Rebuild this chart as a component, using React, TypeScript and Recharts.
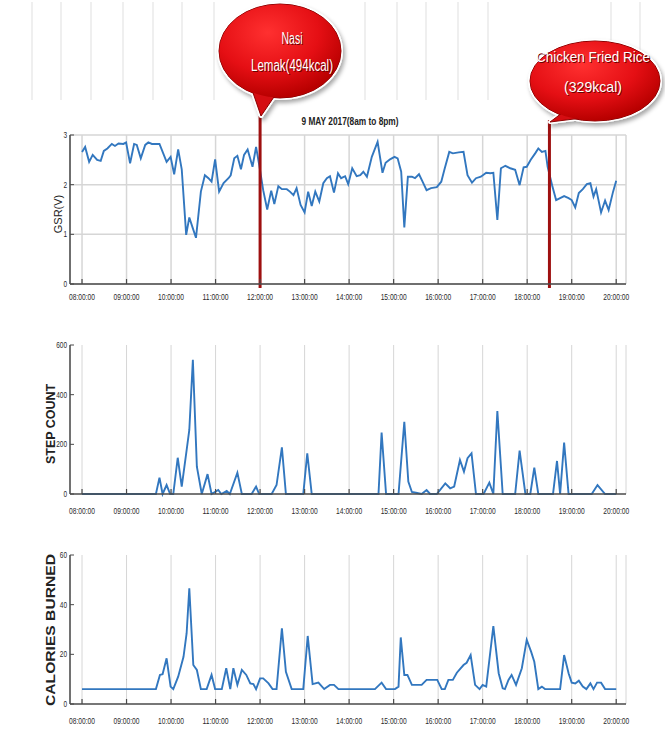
import React from 'react';
import {
    LineChart,
    Line,
    XAxis,
    YAxis,
    CartesianGrid,
    ReferenceLine
} from 'recharts';

// time axis (hours of the day)
const hourTicks = [8, 9, 10, 11, 12, 13, 14, 15, 16, 17, 18, 19, 20];
const timeDomain = [7.73, 20.22];

// GSR in volts
const gsrHours = [
    8.0, 8.07, 8.16, 8.24, 8.34, 8.42, 8.49, 8.57, 8.67, 8.74, 8.82, 8.93, 8.99,
    9.08, 9.17, 9.23, 9.32, 9.42, 9.49, 9.57, 9.74, 9.9, 9.99,
    10.07, 10.16, 10.24, 10.34, 10.41, 10.49, 10.56, 10.67, 10.76, 10.84, 10.91, 10.99,
    11.08, 11.18, 11.29, 11.34, 11.42, 11.49, 11.57, 11.64, 11.72, 11.83, 11.91, 11.98,
    12.07, 12.16, 12.25, 12.32, 12.41, 12.49, 12.6, 12.67, 12.75, 12.82, 12.91,
    13.0, 13.08, 13.16, 13.24, 13.33, 13.42, 13.5, 13.57, 13.66, 13.75, 13.82, 13.91, 13.98,
    14.07, 14.17, 14.25, 14.32, 14.4, 14.51, 14.64, 14.75, 14.82, 14.92,
    15.02, 15.09, 15.17, 15.24, 15.32, 15.41, 15.48, 15.57, 15.65, 15.74, 15.84, 15.97,
    16.07, 16.14, 16.25, 16.33, 16.46, 16.57, 16.66, 16.76, 16.85, 16.96,
    17.08, 17.17, 17.24, 17.33, 17.41, 17.51, 17.62, 17.73, 17.83, 17.92, 17.99,
    18.08, 18.18, 18.25, 18.33, 18.41, 18.46, 18.56, 18.65, 18.74, 18.83, 18.93,
    19.0, 19.08, 19.16, 19.25, 19.34, 19.42, 19.49, 19.55, 19.66, 19.75, 19.83, 19.93, 20.0
];
const gsrVolts = [
    2.66, 2.76, 2.46, 2.6, 2.5, 2.48, 2.68, 2.73, 2.82, 2.78, 2.83, 2.82, 2.85,
    2.43, 2.82, 2.8, 2.53, 2.8, 2.85, 2.82, 2.82, 2.46, 2.56,
    2.21, 2.71, 2.31, 0.99, 1.34, 1.12, 0.93, 1.86, 2.19, 2.13, 2.06, 2.51,
    1.86, 2.03, 2.13, 2.19, 2.53, 2.58, 2.31, 2.6, 2.71, 2.36, 2.76, 2.4,
    1.89, 1.5, 1.88, 1.61, 1.97, 1.91, 1.91, 1.86, 1.79, 1.93, 1.59,
    1.44, 1.86, 1.57, 1.86, 1.66, 2.03, 2.13, 2.17, 1.84, 2.23, 2.13, 2.17, 2.01,
    2.33, 2.17, 2.19, 2.26, 2.16, 2.56, 2.86, 2.24, 2.44, 2.51,
    2.56, 2.53, 2.26, 1.14, 2.16, 2.16, 2.13, 2.21, 2.06, 1.89, 1.93, 1.95,
    2.06, 2.3, 2.66, 2.63, 2.65, 2.66, 2.19, 2.04, 2.13, 2.16,
    2.24, 2.23, 2.24, 1.29, 2.33, 2.38, 2.33, 2.3, 1.99, 2.35, 2.36,
    2.5, 2.63, 2.73, 2.66, 2.68, 2.36, 1.99, 1.69, 1.73, 1.77, 1.73,
    1.69, 1.54, 1.83, 1.91, 2.01, 2.03, 1.76, 1.91, 1.44, 1.68, 1.49, 1.86, 2.08
];

// step count
const stepHours = [
    8.0, 9.66, 9.74, 9.81, 9.9, 9.98,
    10.05, 10.15, 10.24, 10.35, 10.41, 10.49, 10.58, 10.69, 10.82, 10.91,
    11.06, 11.13, 11.25, 11.32, 11.49, 11.59, 11.81, 11.91, 11.98,
    12.26, 12.37, 12.49, 12.58, 12.97, 13.06, 13.16,
    14.66, 14.73, 14.83, 15.11, 15.24, 15.33, 15.41, 15.5, 15.63, 15.74, 15.82, 15.97,
    16.16, 16.27, 16.36, 16.49, 16.58, 16.66, 16.75, 16.85,
    17.02, 17.15, 17.24, 17.33, 17.45, 17.73, 17.83, 17.96,
    18.07, 18.16, 18.25, 18.58, 18.67, 18.74, 18.83, 18.93,
    19.45, 19.58, 19.75, 20.0
];
const stepCounts = [
    0, 0, 66, 0, 36, 0,
    0, 146, 30, 177, 258, 540, 110, 0, 80, 0,
    16, 0, 12, 0, 86, 0, 0, 30, 0,
    0, 36, 188, 0, 0, 164, 0,
    0, 247, 0, 0, 291, 50, 8, 5, 0, 16, 0, 0,
    43, 23, 30, 137, 90, 144, 164, 0,
    0, 46, 0, 334, 0, 0, 175, 0,
    0, 106, 0, 0, 133, 0, 207, 0,
    0, 36, 0, 0
];

// calories burned
const calHours = [
    8.0, 9.66, 9.75, 9.81, 9.9, 9.99,
    10.05, 10.16, 10.28, 10.35, 10.41, 10.5, 10.58, 10.67, 10.8, 10.91, 10.99,
    11.14, 11.24, 11.33, 11.4, 11.49, 11.59, 11.69, 11.78, 11.85, 11.91,
    12.0, 12.07, 12.19, 12.28, 12.37, 12.49, 12.58, 12.71, 12.97,
    13.07, 13.18, 13.31, 13.44, 13.57, 13.66, 13.76,
    14.58, 14.73, 14.83, 15.03, 15.11, 15.16, 15.24, 15.31, 15.41, 15.63, 15.74, 15.98,
    16.08, 16.15, 16.23, 16.33, 16.42, 16.57, 16.64, 16.73, 16.83, 16.93,
    17.0, 17.08, 17.24, 17.36, 17.45, 17.5, 17.58, 17.65, 17.75, 17.88, 17.99,
    18.09, 18.16, 18.25, 18.33, 18.4, 18.74, 18.83, 18.93,
    19.0, 19.08, 19.16, 19.25, 19.33, 19.42, 19.49, 19.57, 19.66, 19.75, 20.0
];
const calBurned = [
    6, 6, 11.7, 12, 18.4, 7,
    6, 11, 19, 28.5, 46.6, 15.7, 13.7, 6, 6, 11.7, 6,
    6, 14.4, 6, 14.4, 7.7, 13.7, 11.7, 8.3, 8, 6,
    10.3, 10.3, 8.3, 6, 6, 30.5, 13, 6, 6,
    27.4, 8, 8.6, 6, 7.7, 7.7, 6,
    6, 8.6, 6, 6, 7, 26.8, 11.7, 11.7, 7.7, 7.7, 9.7, 9.7,
    6, 6, 9.7, 9.7, 12.6, 15.7, 16.6, 19.7, 7.7, 6,
    7.7, 7, 31.4, 12.4, 6.3, 6, 9.7, 11.7, 7.7, 14.4, 25.8,
    21, 17, 6, 7, 6, 6, 19.7, 12.4,
    8.6, 8.3, 9.4, 7, 6, 8.3, 6, 8.6, 8.6, 6, 6
];

// meals
const mealHours = [12, 18.5];

const gsrData = gsrHours.map((t, i) => ({ t, v: gsrVolts[i] }));
const stepData = stepHours.map((t, i) => ({ t, v: stepCounts[i] }));
const calData = calHours.map((t, i) => ({ t, v: calBurned[i] }));

const LINE = '#3277bf';
const AXIS = '#4a4a4a';
const GRID = '#d6d6d6';
const SANS = "'Liberation Sans', Arial, sans-serif";

const fmtHour = (h: number) => `${String(h).padStart(2, '0')}:00:00`;

// text squeezed horizontally to mimic the condensed font of the original
const Narrow = ({ x, y, w, size, anchor = 'middle', children, ...rest }: any) => (
    <text
        x={x}
        y={y}
        textAnchor={anchor}
        fontSize={size}
        fontFamily={SANS}
        textLength={w}
        lengthAdjust="spacingAndGlyphs"
        {...rest}
    >
        {children}
    </text>
);

const makeBottomTick = (dy: number) => ({ x, y, payload }: any) => (
    <g>
        <line x1={x} y1={y} x2={x} y2={y - 5} stroke={AXIS} strokeWidth={1.2} />
        <Narrow x={x} y={y + dy} w={26} size={8.5} fill="#2a2a2a">
            {fmtHour(payload.value)}
        </Narrow>
    </g>
);

const TopTick = ({ x, y }: any) => (
    <line x1={x} y1={y} x2={x} y2={y + 5} stroke={AXIS} strokeWidth={1.2} />
);

const LeftTick = ({ x, y, payload }: any) => (
    <g>
        <line x1={x} y1={y} x2={x + 4} y2={y} stroke={AXIS} strokeWidth={1} />
        <Narrow
            x={x - 3}
            y={y + 3}
            w={String(payload.value).length * 3.6}
            size={8.5}
            anchor="end"
            fill="#2a2a2a"
        >
            {payload.value}
        </Narrow>
    </g>
);

const RightTick = ({ x, y }: any) => (
    <line x1={x} y1={y} x2={x - 4} y2={y} stroke={AXIS} strokeWidth={1} />
);

type PanelProps = {
    data: { t: number; v: number }[];
    yDomain: number[];
    yTicks: number[];
    height: number;
    top: number;
    marginTop: number;
    marginBottom: number;
    labelDy: number;
    hGrid?: boolean;
    children?: React.ReactNode;
};

function Panel({ data, yDomain, yTicks, height, top, marginTop, marginBottom, labelDy, hGrid, children }: PanelProps) {
    const BottomTick = makeBottomTick(labelDy);
    return (
        <div style={{ position: 'absolute', left: 0, top }}>
            <LineChart
                width={665}
                height={height}
                data={data}
                margin={{ top: marginTop, right: 39, left: 0, bottom: marginBottom }}
            >
                <CartesianGrid
                    vertical
                    horizontal={!!hGrid}
                    stroke={GRID}
                    strokeWidth={hGrid ? 1.5 : 1}
                />
                <XAxis
                    dataKey="t"
                    type="number"
                    domain={timeDomain}
                    ticks={hourTicks}
                    allowDataOverflow
                    height={20}
                    tickSize={0}
                    tickMargin={0}
                    axisLine={{ stroke: AXIS, strokeWidth: 1.5 }}
                    tick={<BottomTick />}
                />
                <XAxis
                    xAxisId="top"
                    orientation="top"
                    dataKey="t"
                    type="number"
                    domain={timeDomain}
                    ticks={hourTicks}
                    allowDataOverflow
                    height={0}
                    tickSize={0}
                    tickMargin={0}
                    axisLine={{ stroke: AXIS, strokeWidth: 1.5 }}
                    tick={<TopTick />}
                />
                <YAxis
                    type="number"
                    domain={yDomain}
                    ticks={yTicks}
                    width={70}
                    tickSize={0}
                    tickMargin={0}
                    axisLine={{ stroke: AXIS, strokeWidth: 1.5 }}
                    tick={<LeftTick />}
                />
                <YAxis
                    yAxisId="r"
                    orientation="right"
                    type="number"
                    domain={yDomain}
                    ticks={yTicks}
                    width={0}
                    tickSize={0}
                    tickMargin={0}
                    axisLine={{ stroke: AXIS, strokeWidth: 1.5 }}
                    tick={<RightTick />}
                />
                <Line
                    type="linear"
                    dataKey="v"
                    stroke={LINE}
                    strokeWidth={1.9}
                    dot={false}
                    isAnimationActive={false}
                />
                {children}
            </LineChart>
        </div>
    );
}

const bgLines = [32, 61, 91, 123, 153, 182, 214, 365, 397, 426, 458, 488, 611, 640];

function Bubble({ cx, cy, rx, ry, tail, lines, textX, textY, textW, size }: any) {
    return (
        <g>
            <g filter="url(#bubShadow)">
                <ellipse cx={cx} cy={cy} rx={rx + 2} ry={ry + 2} fill="#fff" />
                <path d={tail} fill="#fff" stroke="#fff" strokeWidth={4} strokeLinejoin="round" />
            </g>
            <ellipse cx={cx} cy={cy} rx={rx} ry={ry} fill="url(#bubFill)" stroke="#8c0000" strokeWidth={1} />
            <path d={tail} fill="#d50d12" stroke="#8c0000" strokeWidth={1} />
            <ellipse cx={cx} cy={cy} rx={rx - 0.5} ry={ry - 0.5} fill="url(#bubFill)" />
            {lines.map((s: string, i: number) => (
                <g key={i}>
                    <Narrow x={textX + 0.8} y={textY[i] + 0.8} w={textW[i]} size={size} fill="#6a0000">
                        {s}
                    </Narrow>
                    <Narrow x={textX} y={textY[i]} w={textW[i]} size={size} fill="#fff">
                        {s}
                    </Narrow>
                </g>
            ))}
        </g>
    );
}

export default function App() {
    return (
        <div style={{ position: 'relative', width: 665, height: 734, background: '#fff', overflow: 'hidden' }}>
            <style>{`body { margin: 0; }`}</style>

            <svg width={665} height={734} style={{ position: 'absolute', left: 0, top: 0 }}>
                {bgLines.map(x => (
                    <line key={x} x1={x} y1={2} x2={x} y2={100} stroke="#eaeaea" strokeWidth={1.5} />
                ))}
            </svg>

            <Panel
                data={gsrData}
                yDomain={[0, 3]}
                yTicks={[0, 1, 2, 3]}
                height={310}
                top={0}
                marginTop={135}
                marginBottom={6}
                labelDy={16}
                hGrid
            >
                {mealHours.map((h, i) => (
                    <ReferenceLine
                        key={h}
                        segment={[{ x: h, y: -0.08 }, { x: h, y: i === 0 ? 3.38 : 3.3 }]}
                        stroke="#9e1010"
                        strokeWidth={3}
                        ifOverflow="visible"
                    />
                ))}
            </Panel>

            <Panel
                data={stepData}
                yDomain={[0, 600]}
                yTicks={[0, 200, 400, 600]}
                height={200}
                top={320}
                marginTop={25}
                marginBottom={6}
                labelDy={20}
            />

            <Panel
                data={calData}
                yDomain={[0, 60]}
                yTicks={[0, 20, 40, 60]}
                height={204}
                top={530}
                marginTop={25}
                marginBottom={10}
                labelDy={20}
            />

            <svg width={665} height={734} style={{ position: 'absolute', left: 0, top: 0, pointerEvents: 'none' }}>
                <defs>
                    <radialGradient id="bubFill" cx="40%" cy="30%" r="70%">
                        <stop offset="0%" stopColor="#ff3030" />
                        <stop offset="60%" stopColor="#e50f14" />
                        <stop offset="100%" stopColor="#b80000" />
                    </radialGradient>
                    <filter id="bubShadow" x="-20%" y="-20%" width="150%" height="150%">
                        <feDropShadow dx={2} dy={3} stdDeviation={2} floodColor="#000" floodOpacity={0.35} />
                    </filter>
                </defs>

                <Bubble
                    cx={280}
                    cy={51}
                    rx={61}
                    ry={47}
                    tail="M 250 84 L 261 116 L 276 94 Z"
                    lines={['Nasi', 'Lemak(494kcal)']}
                    textX={292}
                    textY={[44, 71]}
                    textW={[21, 82]}
                    size={16}
                />
                <Bubble
                    cx={595}
                    cy={81}
                    rx={65}
                    ry={40}
                    tail="M 566 110 L 550 122 L 582 118 Z"
                    lines={['Chicken Fried Rice', '(329kcal)']}
                    textX={593}
                    textY={[62, 92]}
                    textW={[114, 58]}
                    size={14.5}
                />

                <Narrow x={350} y={125} w={97} size={10} fontWeight="bold" fill="#222">
                    9 MAY 2017(8am to 8pm)
                </Narrow>

                <text
                    transform="translate(62,214) rotate(-90)"
                    textAnchor="middle"
                    fontSize={11}
                    fill="#222"
                    fontFamily={SANS}
                >
                    GSR(V)
                </text>
                <text
                    transform="translate(55,424) rotate(-90)"
                    textAnchor="middle"
                    fontSize={12}
                    fontWeight="bold"
                    fill="#222"
                    fontFamily={SANS}
                    textLength={80}
                    lengthAdjust="spacingAndGlyphs"
                >
                    STEP COUNT
                </text>
                <text
                    transform="translate(55,630) rotate(-90)"
                    textAnchor="middle"
                    fontSize={12}
                    fontWeight="bold"
                    fill="#222"
                    fontFamily={SANS}
                    textLength={152}
                    lengthAdjust="spacingAndGlyphs"
                >
                    CALORIES BURNED
                </text>
            </svg>
        </div>
    );
}
